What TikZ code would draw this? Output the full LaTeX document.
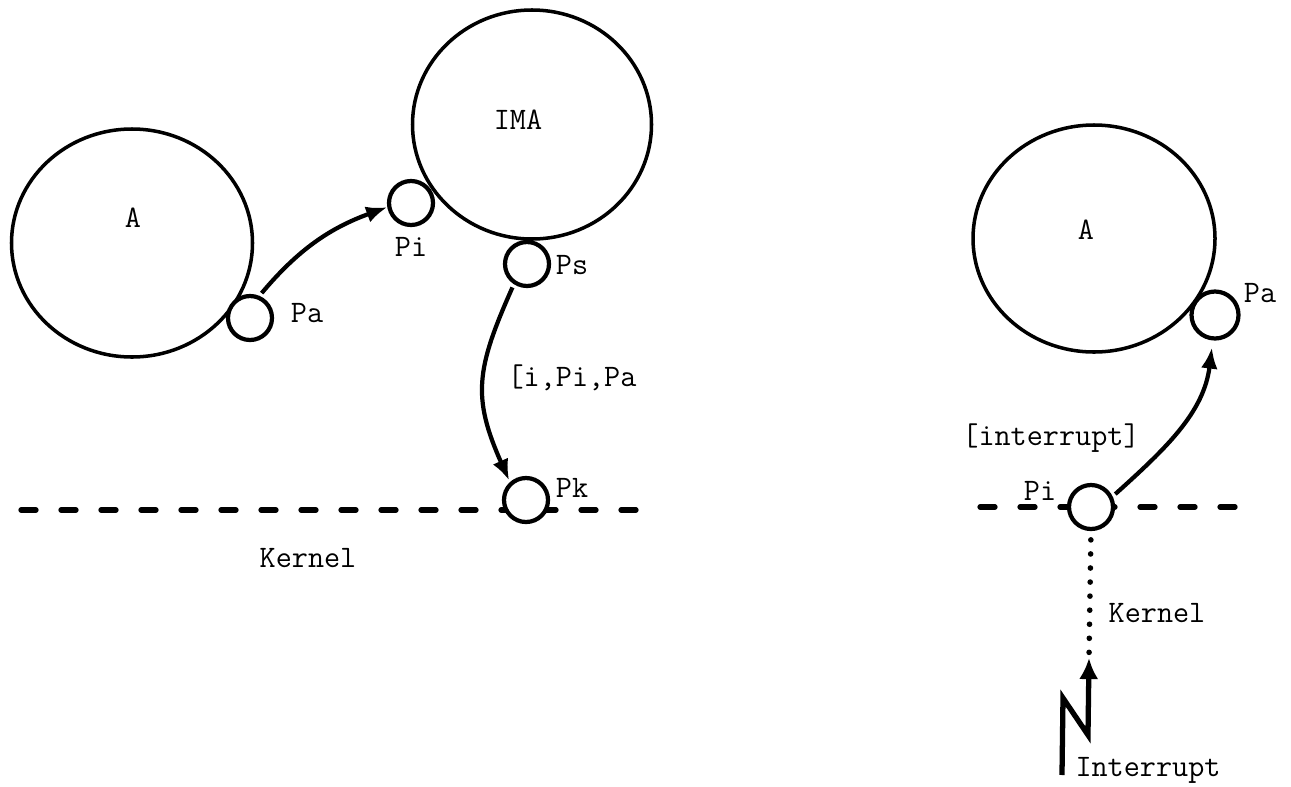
\documentclass[tikz,border=0pt]{standalone}
\usepackage{fontspec}
\usetikzlibrary{arrows.meta,shapes.geometric}

\begin{document}
\begin{tikzpicture}[scale=0.2]
              \tikzstyle{every node}+=[inner sep=0pt, font=\ttfamily\fontsize{17.8}{20}\selectfont]
              \tikzstyle{big}=[ellipse, draw=black, line width=2pt]
              \tikzstyle{port}=[circle, draw=black, line width=2.4pt, fill=white, minimum size=0.88cm]
              \tikzstyle{flow}=[black, line width=2.4pt, -{Latex[length=12pt, width=9.5pt]}]
              \tikzstyle{kern}=[black, line width=3pt, line cap=round, dash pattern=on 0.3cm off 0.5cm]
              \useasboundingbox (0,0) rectangle (129.1,-78.6);
              \draw [kern] (2.1,-51) -- (64,-51);
              \draw [kern] (98,-50.7) -- (124.5,-50.7);
              \node [big, minimum width=4.82cm, minimum height=4.56cm] (leftA) at (13.2,-24.3) {};
              \node (leftAlbl) at (13.3,-21.8) {A};
              \node [big, minimum width=4.78cm, minimum height=4.58cm] (ima) at (53.2,-12.45) {};
              \node (imalbl) at (51.8,-12) {IMA};
              \node [big, minimum width=4.84cm, minimum height=4.54cm] (rightA) at (109.4,-23.85) {};
              \node (rightAlbl) at (108.6,-23) {A};
              \node [port] (leftPa) at (25,-31.8) {};
              \node (leftPalbl) at (30.7,-31.3) {Pa};
              \node [port] (leftPi) at (41.1,-20.3) {};
              \node (leftPilbl) at (41.1,-24.7) {Pi};
              \node [port] (ps) at (52.7,-26.4) {};
              \node (pslbl) at (57.2,-26.5) {Ps};
              \node [port] (pk) at (52.6,-50) {};
              \node (pklbl) at (57.2,-48.8) {Pk};
              \node [port, minimum size=0.94cm] (rightPa) at (121.5,-31.5) {};
              \node (rightPalbl) at (126,-29.3) {Pa};
              \node [port] (rightPi) at (109.1,-50.7) {};
              \node (rightPilbl) at (104,-49.1) {Pi};
              \draw [flow, shorten <=2pt] (leftPa.67) to[out=50, in=200] (leftPi.190);
              \draw (57.2,-37.8) node {[i,Pi,Pa};
              \draw [flow, looseness=1.2, shorten <=2pt, shorten >=1pt] (ps.-123) to[out=-114, in=114] (pk.132);
              \draw (30.8,-55.8) node {Kernel};
              \draw (105.1,-43.8) node {[interrupt]};
              \draw [flow, shorten <=2pt, shorten >=4pt] (rightPi.26) to[out=42, in=-97] (rightPa.-95);
              \coordinate (boltA) at (106.2,-77.5);
              \coordinate (boltB) at (106.3,-69.8);
              \coordinate (boltC) at (108.8,-73.5);
              \coordinate (boltTip) at (108.9,-65.8);
              \draw [black, line width=3.2pt, line cap=round, dash pattern=on 0pt off 8pt, shorten <=5pt, shorten >=3pt] (rightPi.south) -- (boltTip);
              \draw [flow, line width=3pt, -{Latex[length=12pt, width=11pt]}] (boltA) -- (boltB) -- (boltC) -- (boltTip);
              \draw (115.7,-61.3) node {Kernel};
              \draw (114.8,-77) node {Interrupt};
            \end{tikzpicture}
\end{document}
